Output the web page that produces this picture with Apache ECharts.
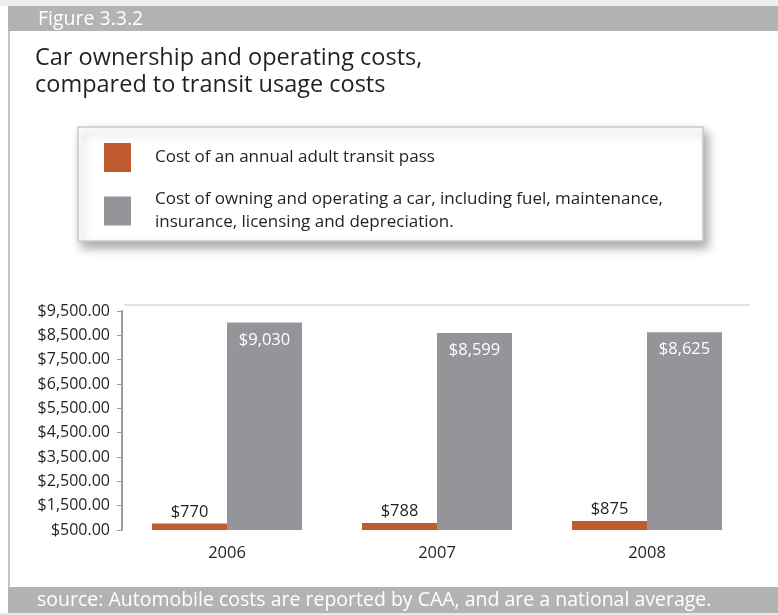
<!DOCTYPE html>
<html>
<head>
<meta charset="utf-8">
<script src="https://cdn.jsdelivr.net/npm/echarts@6/dist/echarts.min.js"></script>
<style>
  html, body { margin: 0; padding: 0; background: #ffffff; }
  #chart { width: 778px; height: 615px; }
</style>
</head>
<body>
<div id="chart"></div>
<script>
// Years on the category axis
const years = ['2006', '2007', '2008'];
// Annual adult transit pass cost
const transitPass = [770, 788, 875];
// Cost of owning and operating a car
const carCost = [9030, 8599, 8625];
// Value axis tick positions
const yTicks = [500, 1500, 2500, 3500, 4500, 5500, 6500, 7500, 8500, 9500];

const seriesNames = [
  'Cost of an annual adult transit pass',
  'Cost of owning and operating a car, including fuel, maintenance,\ninsurance, licensing and depreciation.'
];

const FONT = '"Open Sans", "Noto Sans", sans-serif';
const ORANGE = '#c05b30';
const GREY = '#939598';
const BAND = '#b3b3b3';
const INK = '#231f20';

const money = v => '$' + v.toLocaleString('en-US');

const chart = echarts.init(document.getElementById('chart'), null, { renderer: 'canvas' });

chart.setOption({
  backgroundColor: '#ffffff',
  animation: false,
  textStyle: { fontFamily: FONT },
  graphic: [
    { type: 'rect', shape: { x: 0, y: 0, width: 778, height: 6 }, style: { fill: '#eeeeee' }, silent: true },
    { type: 'rect', shape: { x: 8, y: 6, width: 770, height: 25 }, style: { fill: BAND }, silent: true },
    { type: 'text', x: 38, y: 19, style: { text: 'Figure 3.3.2', fill: '#ffffff', font: '19.5px ' + FONT, verticalAlign: 'middle' }, silent: true },
    { type: 'line', shape: { x1: 9, y1: 31, x2: 9, y2: 587 }, style: { stroke: '#c4c4c4', lineWidth: 2 }, silent: true },
    { type: 'text', x: 35, y: 58, style: { text: 'Car ownership and operating costs,', fill: INK, font: '23.5px ' + FONT, verticalAlign: 'middle' }, silent: true },
    { type: 'text', x: 35, y: 85, style: { text: 'compared to transit usage costs', fill: INK, font: '23.5px ' + FONT, verticalAlign: 'middle' }, silent: true },
    { type: 'line', shape: { x1: 124, y1: 305, x2: 750, y2: 305 }, style: { stroke: '#e2e2e2', lineWidth: 2 }, silent: true },
    { type: 'rect', shape: { x: 8, y: 587, width: 770, height: 26 }, style: { fill: BAND }, silent: true },
    { type: 'text', x: 37, y: 600, style: { text: 'source: Automobile costs are reported by CAA, and are a national average.', fill: '#ffffff', font: '19.5px ' + FONT, verticalAlign: 'middle' }, silent: true },
    { type: 'rect', shape: { x: 0, y: 613, width: 778, height: 2 }, style: { fill: '#e6e6e6' }, silent: true }
  ],
  legend: {
    data: seriesNames,
    orient: 'vertical',
    left: 78,
    top: 127,
    padding: [16, 40, 7, 26],
    itemGap: 16,
    itemWidth: 27,
    itemHeight: 29,
    icon: 'rect',
    selectedMode: false,
    backgroundColor: '#ffffff',
    borderColor: '#c9c9c9',
    borderWidth: 1.5,
    shadowColor: 'rgba(0,0,0,0.35)',
    shadowBlur: 10,
    shadowOffsetX: 4,
    shadowOffsetY: 6,
    textStyle: {
      fontFamily: FONT,
      fontSize: 17,
      color: INK,
      lineHeight: 23,
      padding: [0, 0, 0, 19]
    }
  },
  grid: {
    left: 122,
    top: 311,
    width: 630,
    height: 219,
    containLabel: false
  },
  xAxis: {
    type: 'category',
    data: years,
    axisLine: { show: false },
    axisTick: { show: false },
    axisLabel: { color: INK, fontSize: 16.5, fontFamily: FONT, margin: 15 }
  },
  yAxis: {
    type: 'value',
    min: 500,
    max: 9500,
    splitLine: { show: false },
    axisLine: { show: true, lineStyle: { color: '#9a9a9a', width: 2 } },
    axisTick: { show: true, length: 5, customValues: yTicks, lineStyle: { color: '#9a9a9a', width: 1 } },
    axisLabel: {
      customValues: yTicks,
      color: INK,
      fontSize: 16,
      fontFamily: FONT,
      margin: 12,
      formatter: v => '$' + v.toLocaleString('en-US', { minimumFractionDigits: 2, maximumFractionDigits: 2 })
    }
  },
  series: [
    {
      name: seriesNames[0],
      type: 'bar',
      data: transitPass,
      barWidth: 75,
      barGap: '0%',
      itemStyle: { color: ORANGE },
      label: {
        show: true,
        position: 'top',
        distance: 3,
        color: INK,
        fontSize: 16.5,
        fontFamily: FONT,
        formatter: p => money(p.value)
      }
    },
    {
      name: seriesNames[1],
      type: 'bar',
      data: carCost,
      barWidth: 75,
      barGap: '0%',
      itemStyle: { color: GREY },
      label: {
        show: true,
        position: 'insideTop',
        distance: 9,
        color: '#ffffff',
        fontSize: 16.5,
        fontFamily: FONT,
        formatter: p => money(p.value)
      }
    }
  ]
});
</script>
</body>
</html>
